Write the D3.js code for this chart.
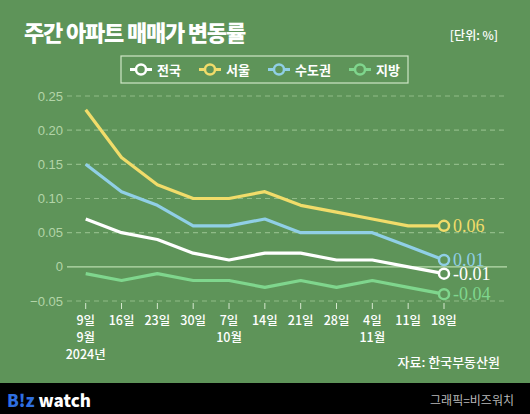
<!DOCTYPE html>
<html><head><meta charset="utf-8">
<script src="https://cdn.jsdelivr.net/npm/d3@7"></script>
<style>
html,body{margin:0;padding:0;background:#5e9459;}
svg{display:block;}
</style></head>
<body>
<script>
const days = ["9일","16일","23일","30일","7일","14일","21일","28일","4일","11일","18일"];
const months = ["9월","","","","10월","","","","11월","",""];
const years = ["2024년","","","","","","","","","",""];
const seriesNames = ["전국","서울","수도권","지방"];
const national = [0.07,0.05,0.04,0.02,0.01,0.02,0.02,0.01,0.01,0.00,-0.01];
const seoul = [0.23,0.16,0.12,0.10,0.10,0.11,0.09,0.08,0.07,0.06,0.06];
const capital = [0.15,0.11,0.09,0.06,0.06,0.07,0.05,0.05,0.05,0.03,0.01];
const regions = [-0.01,-0.02,-0.01,-0.02,-0.02,-0.03,-0.02,-0.03,-0.02,-0.03,-0.04];
const yTicks = [0.25,0.20,0.15,0.10,0.05,0,-0.05];
const yTickLabels = ["0.25","0.20","0.15","0.10","0.05","0","\u22120.05"];
const endLabels = ["-0.01","0.06","0.01","-0.04"];

const colors = ["#ffffff","#f1dc6a","#90cfe6","#7fd68d"];
const W=530,H=414;
const svg=d3.select("body").append("svg").attr("width",W).attr("height",H);
svg.append("rect").attr("width",W).attr("height",H).attr("fill","#5e9459");
svg.append("rect").attr("x",0).attr("y",383).attr("width",W).attr("height",31).attr("fill","#000");

const x=d3.scalePoint().domain(d3.range(days.length)).range([85.7,444]);
const y=d3.scaleLinear().domain([-0.05,0.25]).range([301,96]);

// title
svg.append("text").attr("x",24).attr("y",41).text("주간 아파트 매매가 변동률")
 .attr("fill","#fff").attr("font-family","Noto Sans CJK KR").attr("font-weight","900").attr("font-size",22).attr("letter-spacing",-1.2);
svg.append("text").attr("x",498).attr("y",40).attr("text-anchor","end").text("[단위: %]")
 .attr("fill","#fff").attr("font-family","Noto Sans CJK KR").attr("font-weight","500").attr("font-size",12);

// legend
const lg=svg.append("g");
lg.append("rect").attr("x",121).attr("y",56).attr("width",287).attr("height",27).attr("fill","none").attr("stroke","#cfe6c6").attr("stroke-width",1.2);
const legX=[130,199,268,349];
seriesNames.forEach((n,i)=>{
  const g=lg.append("g").attr("transform",`translate(${legX[i]},69.5)`);
  g.append("line").attr("x1",0).attr("x2",22).attr("stroke",colors[i]).attr("stroke-width",3);
  g.append("circle").attr("cx",11).attr("r",5).attr("fill","#5e9459").attr("stroke",colors[i]).attr("stroke-width",2.5);
  g.append("text").attr("x",27).attr("y",5).text(n).attr("fill","#fff").attr("font-family","Noto Sans CJK KR").attr("font-weight","bold").attr("font-size",13);
});

// grid
const grid=svg.append("g");
yTicks.forEach((t,i)=>{
  grid.append("line").attr("x1",67).attr("x2",507).attr("y1",y(t)).attr("y2",y(t))
   .attr("stroke", t===0?"#b9dcae":"#8fbb87").attr("stroke-width",1.2)
   .attr("stroke-dasharray", t===0?null:"5,4");
  grid.append("text").attr("x",63).attr("y",y(t)+4.5).attr("text-anchor","end").text(yTickLabels[i])
   .attr("fill","#b3d4a8").attr("font-family","Liberation Sans, Arial").attr("font-size",13);
});

// x axis
const xa=svg.append("g");
const tf=(sel)=>sel.attr("text-anchor","middle").attr("fill","#fff").attr("font-family","Noto Sans CJK KR").attr("font-weight","500").attr("font-size",12.5);
days.forEach((d,i)=>{
  xa.append("line").attr("x1",x(i)).attr("x2",x(i)).attr("y1",303).attr("y2",309).attr("stroke","#d6e8cf").attr("stroke-width",1);
  xa.append("text").attr("x",x(i)).attr("y",325).text(d).call(tf);
  if(months[i]) xa.append("text").attr("x",x(i)).attr("y",342).text(months[i]).call(tf);
  if(years[i]) xa.append("text").attr("x",x(i)).attr("y",359).text(years[i]).call(tf);
});

// lines
const data=[national,seoul,capital,regions];
const line=d3.line().x((d,i)=>x(i)).y(d=>y(d));
const order=[3,0,2,1];
order.forEach(k=>{
  svg.append("path").attr("d",line(data[k])).attr("fill","none").attr("stroke",colors[k]).attr("stroke-width",3.2).attr("stroke-linejoin","round");
});
order.forEach(k=>{
  const last=data[k].length-1;
  svg.append("circle").attr("cx",x(last)).attr("cy",y(data[k][last])).attr("r",5).attr("fill","#5e9459").attr("stroke",colors[k]).attr("stroke-width",2.5);
  svg.append("text").attr("x",x(last)+9).attr("y",y(data[k][last])+6).text(endLabels[k])
   .attr("fill",colors[k]).attr("font-family","Liberation Serif, DejaVu Serif").attr("font-size",18);
});

// source
svg.append("text").attr("x",500).attr("y",367).attr("text-anchor","end").text("자료: 한국부동산원")
 .attr("fill","#fff").attr("font-family","Noto Sans CJK KR").attr("font-weight","500").attr("font-size",13);

// footer
const f=svg.append("text").attr("x",7).attr("y",407).attr("font-family","Noto Sans CJK KR, Roboto").attr("font-weight","900").attr("font-size",17);
f.append("tspan").text("B!z").attr("fill","#2f6fe0");
f.append("tspan").text(" watch").attr("fill","#fff");
svg.append("text").attr("x",514).attr("y",405).attr("text-anchor","end").text("그래픽=비즈워치")
 .attr("fill","#b8b8b8").attr("font-family","Noto Sans CJK KR").attr("font-size",12);
</script>
</body></html>
